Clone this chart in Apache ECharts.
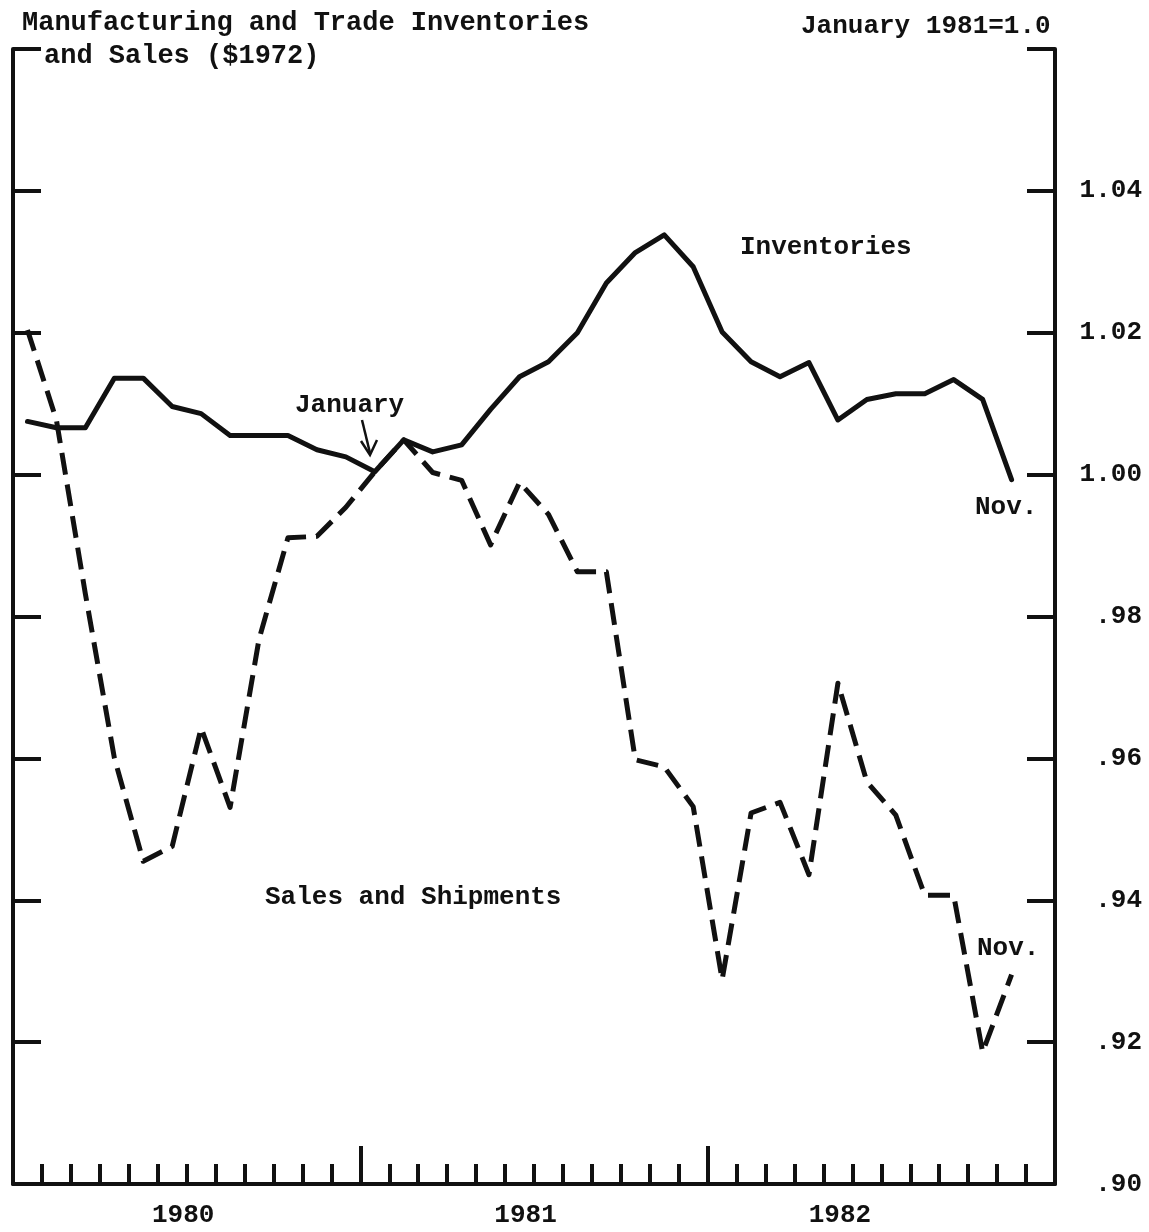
<!DOCTYPE html>
<html><head><meta charset="utf-8">
<style>html,body{margin:0;padding:0;background:#fff}#c{width:1149px;height:1232px}</style>
<script src="https://cdn.jsdelivr.net/npm/echarts/dist/echarts.min.js"></script>
</head><body><div id="c"></div>
<script>
// ---- data ----
const years = ['1980', '1981', '1982'];
const monthNames = ['Jan','Feb','Mar','Apr','May','Jun','Jul','Aug','Sep','Oct','Nov','Dec'];
const months = [];
years.forEach(y => monthNames.forEach(m => months.push(m + ' ' + y)));

// Jan 1980 .. Nov 1982, January 1981 = 1.0
const inventories = [
  1.0075, 1.0066, 1.0066, 1.0136, 1.0136, 1.0096, 1.0086, 1.0055, 1.0055, 1.0055, 1.0035, 1.0025,
  1.0004, 1.0049, 1.0032, 1.0042, 1.0092, 1.0138, 1.0159, 1.0200, 1.0270, 1.0313, 1.0338, 1.0293,
  1.0201, 1.0159, 1.0138, 1.0158, 1.0077, 1.0106, 1.0114, 1.0114, 1.0134, 1.0106, 0.9993
];
const salesShipments = [
  1.0204, 1.0077, 0.9832, 0.9601, 0.9455, 0.9476, 0.9643, 0.9531, 0.9768, 0.9911, 0.9913, 0.9954,
  1.0004, 1.0049, 1.0003, 0.9992, 0.9901, 0.9989, 0.9944, 0.9863, 0.9863, 0.9598, 0.9588, 0.9532,
  0.9288, 0.9523, 0.9538, 0.9436, 0.9706, 0.9567, 0.9520, 0.9407, 0.9407, 0.9186, 0.9295
];

const yTickValues = ['0.90','0.92','0.94','0.96','0.98','1.00','1.02','1.04','1.06'];
const yTickLabels = ['.90', '.92', '.94', '.96', '.98', '1.00', '1.02', '1.04', ''];
const yearLabelMonth = [5, 17, 28];
const yearLabelShift = [22, 12, 4];

// ---- chart ----
const INK = '#111';
const FONT = 'Liberation Mono';
const TXT = 'bold 26px "Liberation Mono"';
const chart = echarts.init(document.getElementById('c'), null, {renderer: 'canvas'});

const rich = {};
years.forEach((y, i) => { rich['y' + i] = {fontFamily: FONT, fontWeight: 'bold', fontSize: 26, color: INK, padding: [0, 0, 0, yearLabelShift[i]]}; });

const option = {
  animation: false,
  backgroundColor: '#fff',
  grid: {left: 13, right: 94, top: 49, bottom: 48, outerBoundsMode: 'none', containLabel: false},
  xAxis: [
    {
      type: 'category', data: months, boundaryGap: true, position: 'bottom',
      axisLine: {show: true, lineStyle: {color: INK, width: 4}},
      axisTick: {show: true, inside: true, length: 20, interval: 0, lineStyle: {color: INK, width: 4}},
      axisLabel: {
        show: true, interval: 0, margin: 18, fontFamily: FONT, fontWeight: 'bold', fontSize: 26, color: INK,
        formatter: (v, i) => { const k = yearLabelMonth.indexOf(i); return k >= 0 ? '{y' + k + '|' + years[k] + '}' : ''; },
        rich: rich
      },
      splitLine: {show: false}
    },
    {
      type: 'category', data: months, boundaryGap: true, position: 'bottom', offset: 0,
      axisLine: {show: false},
      axisTick: {show: true, inside: true, length: 38, interval: (i) => i % 12 === 0, lineStyle: {color: INK, width: 4}},
      axisLabel: {show: false},
      splitLine: {show: false}
    }
  ],
  yAxis: [
    {
      type: 'value', min: 0.90, max: 1.06, interval: 0.02, position: 'right',
      axisLine: {show: true, lineStyle: {color: INK, width: 4}},
      axisTick: {show: true, inside: true, length: 28, lineStyle: {color: INK, width: 4}},
      axisLabel: {
        show: true, align: 'right', margin: 87, fontFamily: FONT, fontWeight: 'bold', fontSize: 26, color: INK,
        formatter: (v) => { const k = yTickValues.indexOf(v.toFixed(2)); return k >= 0 ? yTickLabels[k] : ''; }
      },
      splitLine: {show: false}
    },
    {
      type: 'value', min: 0.90, max: 1.06, interval: 0.02, position: 'left',
      axisLine: {show: true, lineStyle: {color: INK, width: 4}},
      axisTick: {show: true, inside: true, length: 28, lineStyle: {color: INK, width: 4}},
      axisLabel: {show: false},
      splitLine: {show: false}
    }
  ],
  series: [
    {
      name: 'Inventories', type: 'line', data: inventories, xAxisIndex: 0, yAxisIndex: 0,
      symbol: 'none', smooth: false,
      lineStyle: {color: INK, width: 5, join: 'round', cap: 'round'}, z: 3
    },
    {
      name: 'Sales and Shipments', type: 'line', data: salesShipments, xAxisIndex: 0, yAxisIndex: 0,
      symbol: 'none', smooth: false,
      lineStyle: {color: INK, width: 5, type: [22, 10], join: 'round', cap: 'butt'}, z: 2
    }
  ],
  graphic: [
    {type: 'text', left: 22, top: 10, style: {text: 'Manufacturing and Trade Inventories', font: 'bold 27px "Liberation Mono"', fill: INK}},
    {type: 'text', left: 44, top: 43, style: {text: 'and Sales ($1972)', font: 'bold 27px "Liberation Mono"', fill: INK}},
    {type: 'text', left: 801, top: 13, style: {text: 'January 1981=1.0', font: TXT, fill: INK}},
    {type: 'text', left: 740, top: 234, style: {text: 'Inventories', font: TXT, fill: INK}},
    {type: 'text', left: 265, top: 884, style: {text: 'Sales and Shipments', font: TXT, fill: INK}},
    {type: 'text', left: 295, top: 392, style: {text: 'January', font: TXT, fill: INK}},
    {type: 'text', left: 975, top: 494, style: {text: 'Nov.', font: TXT, fill: INK}},
    {type: 'text', left: 977, top: 935, style: {text: 'Nov.', font: TXT, fill: INK}},
    {type: 'line', shape: {x1: 362, y1: 420, x2: 370, y2: 453}, style: {stroke: INK, lineWidth: 2.5}},
    {type: 'polyline', shape: {points: [[361, 441], [370, 455], [377, 440]]}, style: {stroke: INK, lineWidth: 2.5, fill: null}}
  ]
};
chart.setOption(option);
</script>
</body></html>
